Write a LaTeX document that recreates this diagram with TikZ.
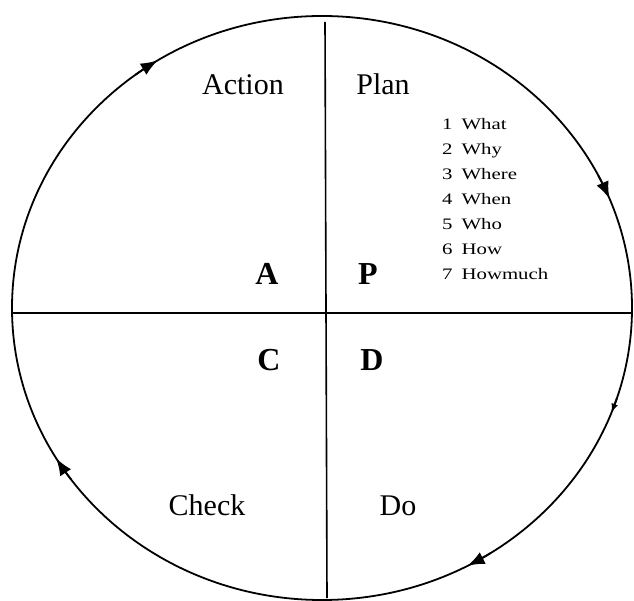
\documentclass[tikz,border=0pt]{standalone}
\usepackage{fontspec}
\setmainfont{Liberation Serif}
\newfontfamily\widefont[FakeStretch=1.3]{Liberation Serif}
\usetikzlibrary{arrows.meta}
\begin{document}
\begin{tikzpicture}[x=1pt,y=-1pt,
  rim/.style={line width=1.8pt},
  axis/.style={line width=1.6pt},
  tip/.style={line width=1.8pt,-{Latex[length=17pt,width=13pt]}},
  smalltip/.style={line width=1.8pt,-{Latex[length=9pt,width=7pt]}},
  small/.style={font=\widefont\fontsize{16}{16}\selectfont,anchor=base west,inner sep=0pt},
  label/.style={font=\fontsize{30}{30}\selectfont,anchor=base,inner sep=0pt},
  letter/.style={font=\fontsize{32}{32}\selectfont\bfseries,anchor=base,inner sep=0pt}]
\useasboundingbox (0,0) rectangle (634,601);
\coordinate (c) at (322,308);
\draw[rim] (c) ellipse [x radius=310, y radius=292];
\coordinate (top) at (325,22);
\coordinate (bot) at (327,598);
\coordinate (lft) at (12,313);
\coordinate (rgt) at (632,313);
\draw[axis] (top) -- (bot);
\draw[axis] (lft) -- (rgt);
% arrowheads (clockwise)
\foreach \t in {122,22,-62,211}{
  \draw[tip,domain=\t+5:\t,samples=6,variable=\s] plot ({322+310*cos(\s)},{308-292*sin(\s)});
}
\draw[smalltip,domain=-18:-21,samples=6,variable=\s] plot ({322+310*cos(\s)},{308-292*sin(\s)});
\node[label] (action) at (243,95) {Action};
\node[label] (plan) at (383,95) {Plan};
\node[label] (check) at (207,515) {Check};
\node[label] (do) at (398,515) {Do};
\node[letter] (A) at (267,285) {A};
\node[letter] (P) at (368,285) {P};
\node[letter] (C) at (269,370) {C};
\node[letter] (D) at (372,370) {D};
\node[small] (n1) at (442,130) {1\hspace{9pt}What};
\node[small] (n2) at (442,155) {2\hspace{9pt}Why};
\node[small] (n3) at (442,180) {3\hspace{9pt}Where};
\node[small] (n4) at (442,205) {4\hspace{9pt}When};
\node[small] (n5) at (442,230) {5\hspace{9pt}Who};
\node[small] (n6) at (442,255) {6\hspace{9pt}How};
\node[small] (n7) at (442,280) {7\hspace{9pt}Howmuch};
\end{tikzpicture}
\end{document}
